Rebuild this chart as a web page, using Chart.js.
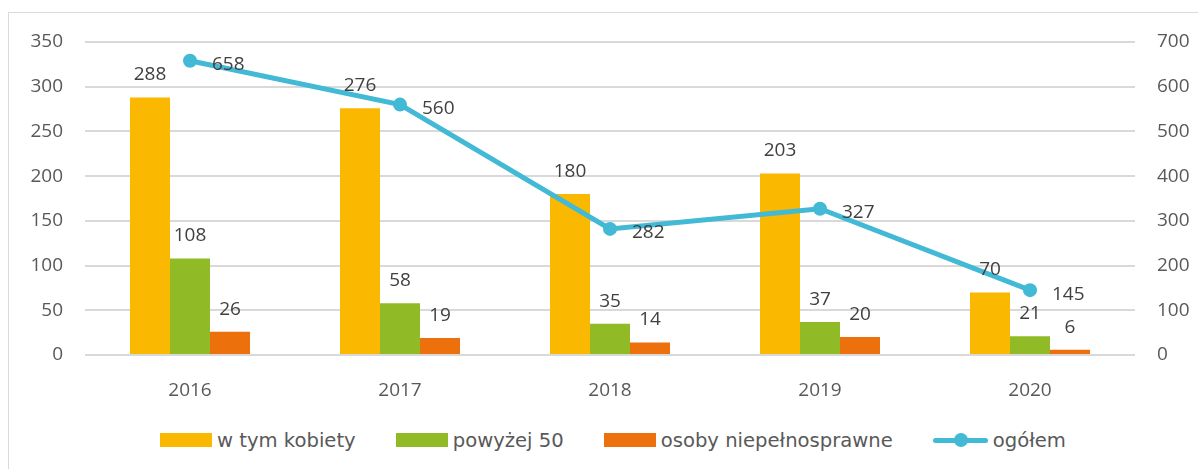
<!DOCTYPE html>
<html>
<head>
<meta charset="utf-8">
<script src="https://cdn.jsdelivr.net/npm/chart.js@4/dist/chart.umd.min.js"></script>
<style>
  body { margin: 0; background: #fff; }
  #wrap { position: relative; width: 1198px; height: 469px; overflow: hidden; }
  #frame { position: absolute; left: 8px; top: 12px; width: 1300px; height: 600px;
           border-left: 1px solid #d9d9d9; border-top: 1px solid #d9d9d9; }
  #chart { position: absolute; left: 0; top: 0; }
  #legend { position: absolute; left: 160px; top: 428px; height: 24px; display: flex;
            align-items: center; gap: 40px;
            font-family: "DejaVu Sans", sans-serif; font-size: 19.6px; color: #595959; }
  .item { display: flex; align-items: center; white-space: nowrap; }
  .box { width: 52px; height: 14px; margin-right: 5px; }
  .lineMark { position: relative; width: 55px; height: 14px; margin-right: 5px; }
  .lineMark .l { position: absolute; left: 0; right: 0; top: 5px; height: 5px; border-radius: 3px; }
  .lineMark .d { position: absolute; left: 21px; top: 0; width: 14px; height: 14px; border-radius: 50%; }
</style>
</head>
<body>
<div id="wrap">
  <div id="frame"></div>
  <canvas id="chart" width="1198" height="410"></canvas>
  <div id="legend"></div>
</div>
<script>
const years = ["2016", "2017", "2018", "2019", "2020"];
const kobiety = [288, 276, 180, 203, 70];
const powyzej50 = [108, 58, 35, 37, 21];
const niepelnosprawne = [26, 19, 14, 20, 6];
const ogolem = [658, 560, 282, 327, 145];

const FONT = { family: "'Open Sans', sans-serif", size: 19 };
const TEXT = "#595959";

const valueLabels = {
  id: "valueLabels",
  afterDatasetsDraw(chart) {
    const ctx = chart.ctx;
    ctx.save();
    ctx.font = "19px 'Open Sans', sans-serif";
    ctx.fillStyle = "#404040";
    chart.data.datasets.forEach((ds, i) => {
      const meta = chart.getDatasetMeta(i);
      meta.data.forEach((el, j) => {
        const v = ds.data[j];
        if (ds.type === "line") {
          ctx.textAlign = "left";
          ctx.textBaseline = "middle";
          ctx.fillText(v, el.x + 22, el.y + 4);
        } else {
          ctx.textAlign = "center";
          ctx.textBaseline = "alphabetic";
          ctx.fillText(v, el.x, el.y - 17);
        }
      });
    });
    ctx.restore();
  },
};

const chart = new Chart(document.getElementById("chart"), {
  type: "bar",
  data: {
    labels: years,
    datasets: [
      {
        label: "w tym kobiety",
        data: kobiety,
        backgroundColor: "#fab800",
        yAxisID: "y",
        order: 1,
      },
      {
        label: "powyżej 50",
        data: powyzej50,
        backgroundColor: "#90bb26",
        yAxisID: "y",
        order: 1,
      },
      {
        label: "osoby niepełnosprawne",
        data: niepelnosprawne,
        backgroundColor: "#ec700c",
        yAxisID: "y",
        order: 1,
      },
      {
        type: "line",
        label: "ogółem",
        data: ogolem,
        borderColor: "#42b9d5",
        backgroundColor: "#42b9d5",
        borderWidth: 5,
        pointRadius: 7,
        pointBorderWidth: 0,
        tension: 0,
        yAxisID: "y1",
        order: 0,
      },
    ],
  },
  options: {
    responsive: false,
    animation: false,
    categoryPercentage: 120 / 210,
    barPercentage: 1,
    layout: { padding: { top: 42, left: 0, right: 0, bottom: 0 } },
    plugins: {
      legend: { display: false },
      tooltip: { enabled: false },
    },
    scales: {
      x: {
        grid: { display: false },
        border: { display: false },
        ticks: { color: TEXT, font: FONT, padding: 16 },
        afterFit: (s) => { s.height = 55; },
      },
      y: {
        position: "left",
        min: 0, max: 350,
        ticks: { stepSize: 50, color: TEXT, font: FONT, padding: 22 },
        grid: { color: "#d9d9d9", lineWidth: 2, drawTicks: false },
        border: { display: false },
        afterFit: (s) => { s.width = 85; },
      },
      y1: {
        position: "right",
        min: 0, max: 700,
        ticks: { stepSize: 100, color: TEXT, font: FONT, padding: 22 },
        grid: { drawOnChartArea: false, drawTicks: false },
        border: { display: false },
        afterFit: (s) => { s.width = 63; },
      },
    },
  },
  plugins: [valueLabels],
});

// legend built from the dataset definitions
const legend = document.getElementById("legend");
chart.data.datasets.forEach((ds) => {
  const item = document.createElement("div");
  item.className = "item";
  if (ds.type === "line") {
    item.innerHTML = `<span class="lineMark"><span class="l" style="background:${ds.borderColor}"></span>` +
      `<span class="d" style="background:${ds.borderColor}"></span></span><span>${ds.label}</span>`;
  } else {
    item.innerHTML = `<span class="box" style="background:${ds.backgroundColor}"></span><span>${ds.label}</span>`;
  }
  legend.appendChild(item);
});
</script>
</body>
</html>
